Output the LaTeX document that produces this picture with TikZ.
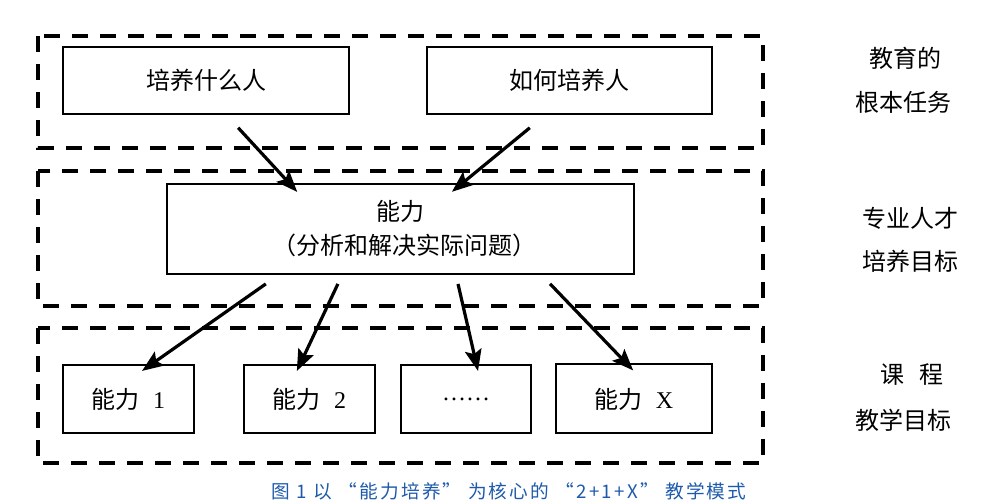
\documentclass[tikz,border=0pt]{standalone}
\usepackage{fontspec}
\setmainfont{Liberation Serif}
\newfontfamily\cjk{Noto Sans CJK SC}
\newfontfamily\capfont[LetterSpace=12]{Noto Sans CJK SC}
\usetikzlibrary{arrows.meta}

\definecolor{capblue}{RGB}{30,90,172}

\tikzstyle{frame} = [line width=2.6pt, dash pattern=on 12pt off 9pt]
\tikzstyle{box} = [draw, line width=1.5pt, inner sep=0pt, font=\cjk\fontsize{18}{25.5}\selectfont]
\tikzstyle{lbl} = [inner sep=0pt, font=\cjk\fontsize{18}{22}\selectfont]
\tikzstyle{arrow} = [line width=2.4pt, -{Stealth[length=16pt,width=12.5pt,inset=3pt]}]

\begin{document}
\begin{tikzpicture}[x=0.75pt,y=-0.75pt]
\useasboundingbox (0,0) rectangle (1001,502);

% dashed frames
\draw [frame] (38,36) rectangle (763,148);
\draw [frame] (38,171) rectangle (763,306);
\draw [frame] (38,328) rectangle (763,463);

% top: task
\node [box, minimum width=214.5pt, minimum height=50.25pt] (who) at (206,80.5) {培养什么人};
\node [box, minimum width=213.75pt, minimum height=50.25pt] (how) at (569.5,80.5) {如何培养人};

% middle: ability
\node [box, align=center, minimum width=350.25pt, minimum height=67.5pt] (ability) at (400.5,229)
  {能力\\\hspace{0.3em}（分析和解决实际问题）};

% bottom: abilities
\node [box, minimum width=98.25pt, minimum height=51pt] (ab1) at (128.5,399) {能力\hspace{0.55em}{\rmfamily 1}};
\node [box, minimum width=98.25pt, minimum height=51pt] (ab2) at (309.5,399) {能力\hspace{0.55em}{\rmfamily 2}};
\node [box, minimum width=97.5pt, minimum height=51pt] (ab3) at (466,399) {\rmfamily ……};
\node [box, minimum width=117pt, minimum height=51.75pt] (abX) at (634,399) {能力\hspace{0.55em}{\rmfamily X}};

% arrows
\draw [arrow, shorten <=13pt, shorten >=-9.1pt] ([xshift=15.3pt]who.south) -- ([xshift=-83.6pt]ability.north);
\draw [arrow, shorten <=15.1pt, shorten >=-10.4pt] ([xshift=-18.1pt]how.south) -- ([xshift=46.6pt]ability.north);
\draw [arrow, shorten <=11.6pt, shorten >=-9pt] ([xshift=-91.5pt]ability.south) -- ([xshift=17.5pt]ab1.north);
\draw [arrow, shorten <=7.4pt, shorten >=-5.8pt] ([xshift=-43.8pt]ability.south) -- ([xshift=-7pt]ab2.north);
\draw [arrow, shorten <=6.9pt, shorten >=-5.4pt] ([xshift=41.6pt]ability.south) -- ([xshift=7.8pt]ab3.north);
\draw [arrow, shorten <=9.2pt, shorten >=-7.2pt] ([xshift=105.8pt]ability.south) -- ([xshift=-5.6pt]abX.north);

% labels on the right
\node [lbl] (taskA) at (905,58) {教育的};
\node [lbl] (taskB) at (903,102) {根本任务};
\node [lbl] (goalA) at (910,218) {专业人才};
\node [lbl] (goalB) at (910,261) {培养目标};
\node [lbl] (courseA) at (912,375) {课\hspace{0.6em}程};
\node [lbl] (courseB) at (903,420) {教学目标};

% caption
\node [inner sep=0pt, text=capblue, font=\capfont\fontsize{14}{16}\selectfont] (caption) at (509,491)
  {图 1 以 “能力培养” 为核心的 “2+1+X” 教学模式};

\end{tikzpicture}
\end{document}
